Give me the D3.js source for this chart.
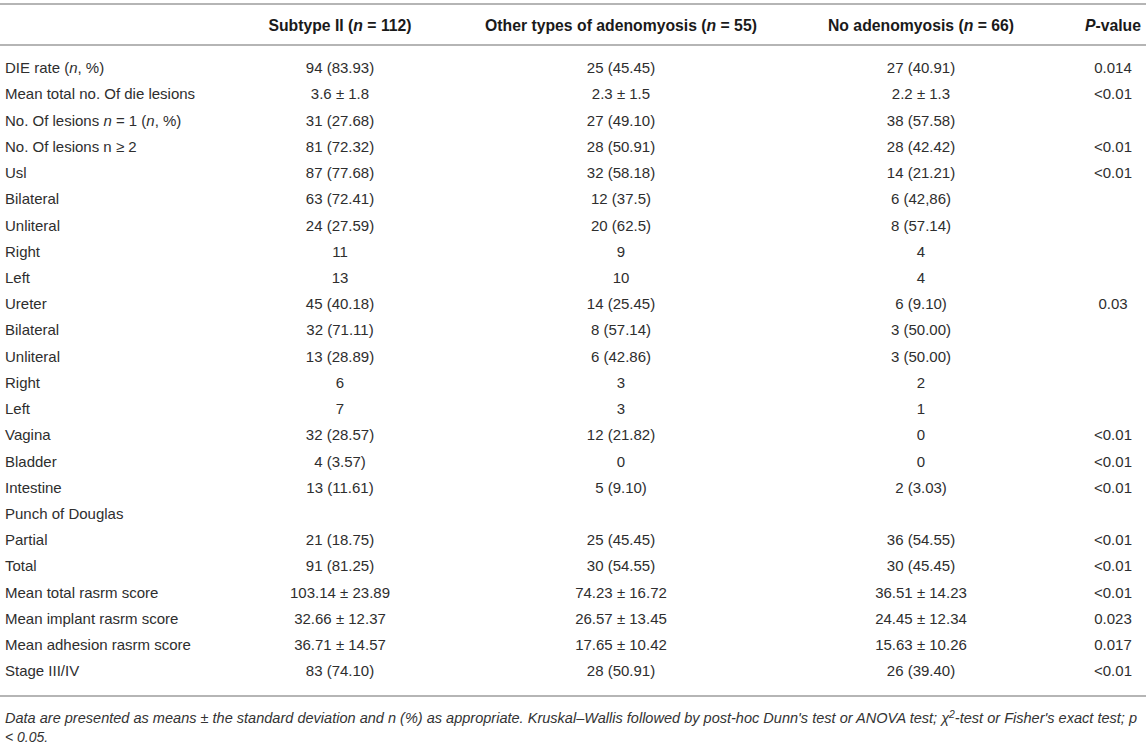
<!DOCTYPE html>
<html>
<head>
<meta charset="utf-8">
<script src="https://cdn.jsdelivr.net/npm/d3@7"></script>
<style>
  body { margin: 0; background: #fff; }
  svg text { font-family: "Liberation Sans", Arial, Helvetica, sans-serif; }
</style>
</head>
<body>
<div id="table"></div>
<script>
// column headers, _x_ marks italic
const headers = ["", "Subtype II (_n_ = 112)", "Other types of adenomyosis (_n_ = 55)", "No adenomyosis (_n_ = 66)", "_P_-value"];

const rowLabels = [
  "DIE rate (_n_, %)", "Mean total no. Of die lesions", "No. Of lesions _n_ = 1 (_n_, %)", "No. Of lesions n ≥ 2",
  "Usl", "Bilateral", "Unliteral", "Right", "Left",
  "Ureter", "Bilateral", "Unliteral", "Right", "Left",
  "Vagina", "Bladder", "Intestine", "Punch of Douglas", "Partial", "Total",
  "Mean total rasrm score", "Mean implant rasrm score", "Mean adhesion rasrm score", "Stage III/IV"
];
const subtypeII = [
  "94 (83.93)", "3.6 ± 1.8", "31 (27.68)", "81 (72.32)",
  "87 (77.68)", "63 (72.41)", "24 (27.59)", "11", "13",
  "45 (40.18)", "32 (71.11)", "13 (28.89)", "6", "7",
  "32 (28.57)", "4 (3.57)", "13 (11.61)", "", "21 (18.75)", "91 (81.25)",
  "103.14 ± 23.89", "32.66 ± 12.37", "36.71 ± 14.57", "83 (74.10)"
];
const otherTypes = [
  "25 (45.45)", "2.3 ± 1.5", "27 (49.10)", "28 (50.91)",
  "32 (58.18)", "12 (37.5)", "20 (62.5)", "9", "10",
  "14 (25.45)", "8 (57.14)", "6 (42.86)", "3", "3",
  "12 (21.82)", "0", "5 (9.10)", "", "25 (45.45)", "30 (54.55)",
  "74.23 ± 16.72", "26.57 ± 13.45", "17.65 ± 10.42", "28 (50.91)"
];
const noAdeno = [
  "27 (40.91)", "2.2 ± 1.3", "38 (57.58)", "28 (42.42)",
  "14 (21.21)", "6 (42,86)", "8 (57.14)", "4", "4",
  "6 (9.10)", "3 (50.00)", "3 (50.00)", "2", "1",
  "0", "0", "2 (3.03)", "", "36 (54.55)", "30 (45.45)",
  "36.51 ± 14.23", "24.45 ± 12.34", "15.63 ± 10.26", "26 (39.40)"
];
const pValues = [
  "0.014", "<0.01", "", "<0.01",
  "<0.01", "", "", "", "",
  "0.03", "", "", "", "",
  "<0.01", "<0.01", "<0.01", "", "<0.01", "<0.01",
  "<0.01", "0.023", "0.017", "<0.01"
];
const footLine1 = "Data are presented as means ± the standard deviation and n (%) as appropriate. Kruskal–Wallis followed by post-hoc Dunn's test or ANOVA test; χ^2^-test or Fisher's exact test; p";
const footLine2 = "< 0.05.";

const width = 1146, height = 745;
const svg = d3.select("#table").append("svg")
  .attr("width", width)
  .attr("height", height);

const colKeys = ["label", "c1", "c2", "c3", "p"];
const x = d3.scaleOrdinal().domain(colKeys).range([5, 340, 621, 921, 1113]);
const y = d3.scaleLinear().domain([0, rowLabels.length - 1]).range([68, 671]);

const rows = rowLabels.map((d, i) => ({
  label: d, c1: subtypeII[i], c2: otherTypes[i], c3: noAdeno[i], p: pValues[i]
}));

// write a string with _italic_ parts into a text node
function rich(sel, str) {
  str.split("_").forEach((part, i) => {
    if (!part) return;
    sel.append("tspan").text(part).style("font-style", i % 2 ? "italic" : null);
  });
}

// rules
const rule = [4, 45, 696];
svg.selectAll("line.rule")
  .data(rule)
  .join("line")
  .attr("class", "rule")
  .attr("x1", 0).attr("x2", width)
  .attr("y1", d => d).attr("y2", d => d)
  .attr("stroke", "#b5b5b5")
  .attr("stroke-width", 2);

// header
svg.append("g").selectAll("text")
  .data(headers.map((h, i) => ({ key: colKeys[i], h })))
  .join("text")
  .attr("x", d => x(d.key))
  .attr("y", 25)
  .attr("dy", "0.35em")
  .attr("text-anchor", d => d.key === "label" ? "start" : "middle")
  .attr("fill", "#1a1a1a")
  .style("font-size", "15.75px")
  .style("font-weight", "bold")
  .each(function(d) { rich(d3.select(this), d.h); });

// body
const rowG = svg.append("g").selectAll("g")
  .data(rows)
  .join("g")
  .attr("transform", (d, i) => `translate(0,${y(i)})`);

colKeys.forEach(k => {
  rowG.append("text")
    .attr("x", x(k))
    .attr("dy", "0.35em")
    .attr("text-anchor", k === "label" ? "start" : "middle")
    .attr("fill", "#2e2e2e")
    .style("font-size", "15px")
    .each(function(d) { rich(d3.select(this), d[k]); });
});

// footnote
const foot = svg.append("g")
  .style("font-family", "'Liberation Sans Narrow', 'Liberation Sans', Arial, sans-serif")
  .style("font-style", "italic")
  .style("font-size", "14px")
  .attr("fill", "#333");

const f1 = foot.append("text").attr("x", 5).attr("y", 723);
footLine1.split("^").forEach((part, i) => {
  const t = f1.append("tspan").text(part);
  if (i % 2) t.attr("dy", -5).style("font-size", "10px");
  else if (i > 0) t.attr("dy", 5);
});
f1.attr("textLength", 1132).attr("lengthAdjust", "spacingAndGlyphs");

foot.append("text").attr("x", 5).attr("y", 742).text(footLine2);
</script>
</body>
</html>
